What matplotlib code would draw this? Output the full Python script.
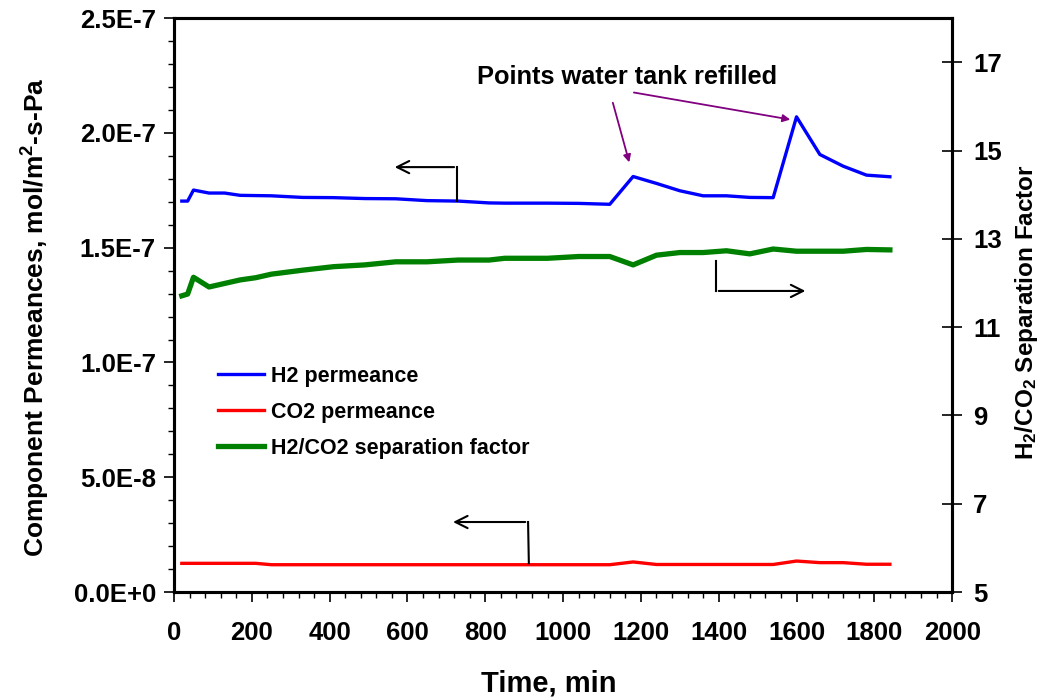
import numpy as np
import matplotlib
matplotlib.use('Agg')
import matplotlib.pyplot as plt
from matplotlib.ticker import MultipleLocator, FixedLocator, FixedFormatter

plt.rcParams['font.family'] = ['Liberation Sans', 'DejaVu Sans']
plt.rcParams['font.weight'] = 'bold'
plt.rcParams['mathtext.fontset'] = 'custom'
plt.rcParams['mathtext.rm'] = 'Liberation Sans:bold'
plt.rcParams['mathtext.bf'] = 'Liberation Sans:bold'
plt.rcParams['mathtext.it'] = 'Liberation Sans:bold'

# time, min
time_min = [20, 35, 50, 90, 130, 170, 210, 250, 330, 410, 490, 570, 650, 730,
            810, 850, 960, 1040, 1120, 1180, 1240, 1300, 1360, 1420, 1480,
            1540, 1600, 1660, 1720, 1780, 1840]
# H2 permeance, mol/m2-s-Pa
h2_perm = [1.703e-7, 1.703e-7, 1.751e-7, 1.738e-7, 1.738e-7, 1.728e-7, 1.727e-7,
           1.726e-7, 1.719e-7, 1.718e-7, 1.714e-7, 1.713e-7, 1.705e-7, 1.703e-7,
           1.695e-7, 1.694e-7, 1.694e-7, 1.693e-7, 1.689e-7, 1.810e-7, 1.780e-7,
           1.748e-7, 1.726e-7, 1.726e-7, 1.719e-7, 1.718e-7, 2.070e-7, 1.906e-7,
           1.855e-7, 1.816e-7, 1.809e-7]
# CO2 permeance, mol/m2-s-Pa
co2_perm = [1.25e-8, 1.25e-8, 1.25e-8, 1.25e-8, 1.25e-8, 1.25e-8, 1.25e-8,
            1.19e-8, 1.19e-8, 1.19e-8, 1.19e-8, 1.19e-8, 1.19e-8, 1.19e-8,
            1.19e-8, 1.19e-8, 1.19e-8, 1.19e-8, 1.19e-8, 1.31e-8, 1.20e-8,
            1.20e-8, 1.20e-8, 1.20e-8, 1.20e-8, 1.20e-8, 1.35e-8, 1.28e-8,
            1.28e-8, 1.21e-8, 1.21e-8]
# H2/CO2 separation factor
sep_factor = [11.71, 11.75, 12.13, 11.91, 11.99, 12.07, 12.12, 12.20, 12.29,
              12.37, 12.41, 12.48, 12.48, 12.52, 12.52, 12.56, 12.56, 12.60,
              12.60, 12.41, 12.63, 12.69, 12.69, 12.73, 12.66, 12.77, 12.72,
              12.72, 12.72, 12.76, 12.75]

left_ticks = [0, 5e-8, 1e-7, 1.5e-7, 2e-7, 2.5e-7]
left_labels = ['0.0E+0', '5.0E-8', '1.0E-7', '1.5E-7', '2.0E-7', '2.5E-7']
right_ticks = [5, 7, 9, 11, 13, 15, 17]

fig = plt.figure(figsize=(10.44, 6.97), dpi=100)
ax = fig.add_axes([0.1667, 0.1506, 0.912 - 0.1667, 0.974 - 0.1506])
ax2 = ax.twinx()

l1, = ax.plot(time_min, h2_perm, color='#0000ff', lw=2.4, label='H2 permeance')
l2, = ax.plot(time_min, co2_perm, color='#ff0000', lw=2.4, label='CO2 permeance')
l3, = ax2.plot(time_min, sep_factor, color='#008000', lw=3.8,
               label='H2/CO2 separation factor')

ax.set_xlim(0, 2000)
ax.set_ylim(0, 2.5e-7)
ax2.set_ylim(5, 18)

ax.xaxis.set_major_locator(MultipleLocator(200))
ax.xaxis.set_minor_locator(MultipleLocator(40))
ax.yaxis.set_major_locator(FixedLocator(left_ticks))
ax.yaxis.set_major_formatter(FixedFormatter(left_labels))
ax.yaxis.set_minor_locator(MultipleLocator(1e-8))
ax2.yaxis.set_major_locator(FixedLocator(right_ticks))

for a in (ax, ax2):
    for s in a.spines.values():
        s.set_linewidth(2.2)
ax.tick_params(axis='both', which='major', direction='out', length=7, width=1.2,
               labelsize=18.5, pad=6)
ax.tick_params(axis='x', which='major', pad=14)
ax.tick_params(axis='both', which='minor', direction='out', length=4, width=1.0)
ax2.tick_params(axis='y', which='major', direction='inout', length=14, width=1.2,
                labelsize=18.5, pad=8)
for lab in ax.get_xticklabels() + ax.get_yticklabels() + ax2.get_yticklabels():
    lab.set_fontweight('bold')

xl = ax.set_xlabel('Time, min', fontsize=21, fontweight='bold', va='center')
ax.xaxis.set_label_coords(0.482, -0.16)
yl = ax.set_ylabel(r'Component Permeances, mol/m$^{2}$-s-Pa', fontsize=19,
                   fontweight='bold', va='center', ha='center')
ax.yaxis.set_label_coords(-0.178, 0.479)
yr = ax2.set_ylabel(r'H$_{2}$/CO$_{2}$ Separation Factor', fontsize=17.5,
                    fontweight='bold', rotation=90, va='center', ha='center')
ax2.yaxis.set_label_coords(1.096, 0.488)

# annotation for refill points
ax.text(1165, 2.243e-7, 'Points water tank refilled', fontsize=18.3,
        fontweight='bold', ha='center', va='center')
ap = dict(arrowstyle='-|>', color='#800080', lw=1.3, mutation_scale=11)
ax.annotate('', xy=(1172, 1.86e-7), xytext=(1126, 2.143e-7), arrowprops=ap)
ax.annotate('', xy=(1591, 2.056e-7), xytext=(1175, 2.178e-7), arrowprops=ap)

# axis pointer arrows
bk = dict(arrowstyle='->', color='black', lw=1.5, mutation_scale=22)
ax.plot([727, 727], [1.703e-7, 1.851e-7], color='black', lw=1.5)
ax.annotate('', xy=(560, 1.851e-7), xytext=(727, 1.851e-7), arrowprops=bk)
ax.plot([912, 910], [1.26e-8, 3.05e-8], color='black', lw=1.5)
ax.annotate('', xy=(710, 3.05e-8), xytext=(910, 3.05e-8), arrowprops=bk)
ax2.plot([1393, 1393], [12.50, 11.82], color='black', lw=1.5)
ax2.annotate('', xy=(1630, 11.82), xytext=(1393, 11.82), arrowprops=bk)

leg = ax.legend(handles=[l1, l2, l3], loc='upper left',
                bbox_to_anchor=(207 / 1044, 1 - 355 / 697),
                bbox_transform=fig.transFigure, frameon=False,
                prop={'size': 15.5, 'weight': 'bold'}, handlelength=2.15,
                handletextpad=0.3, labelspacing=0.7, borderpad=0)

fig.savefig('out.png', dpi=100)
